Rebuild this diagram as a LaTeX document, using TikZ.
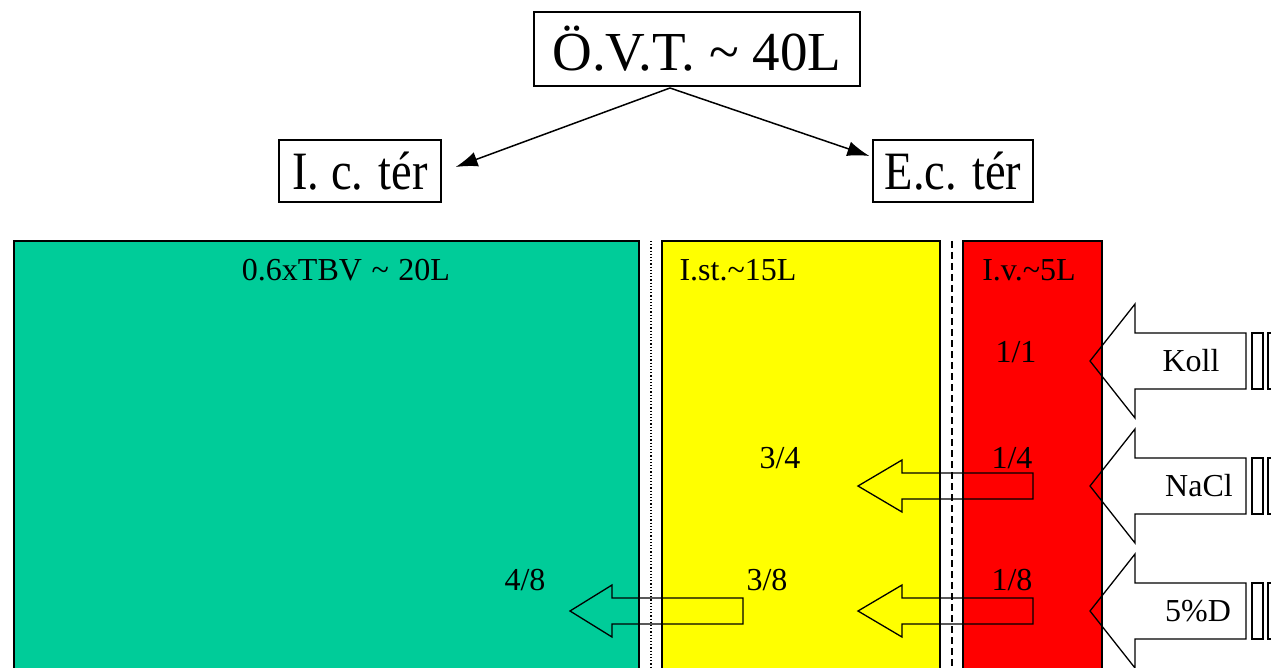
\documentclass[tikz,border=0pt]{standalone}
\usepackage{fontspec}
\setmainfont{Liberation Serif}
\usetikzlibrary{arrows.meta}
\definecolor{icgreen}{RGB}{0,204,153}
\definecolor{isyellow}{RGB}{255,255,0}
\definecolor{ivred}{RGB}{255,0,0}
\tikzset{
  topbox/.style={draw, line width=1.3pt, inner sep=0pt, fill=white},
  compart/.style={draw, line width=1.2pt},
  lbl/.style={font=\fontsize{32}{36}\selectfont, inner sep=0pt},
  blockarrow/.style={draw, line width=1.3pt, line join=miter},
  conn/.style={line width=1.5pt, -{Latex[length=22pt,width=15pt]}},
}
\begin{document}
\begin{tikzpicture}[x=1pt,y=-1pt]
\useasboundingbox (0,0) rectangle (1271,668);
\clip (0,0) rectangle (1271,668);
% top boxes
\node[topbox, minimum width=326pt, minimum height=74pt, font=\fontsize{55}{60}\selectfont] (ovt) at (697,49) {Ö.V.T.\ \char`~\ 40L};
\node[topbox, minimum width=162pt, minimum height=62pt] (ic) at (360,171) {\scalebox{0.86}[1]{\fontsize{54}{60}\selectfont I. c. tér}};
\node[topbox, minimum width=160pt, minimum height=62pt] (ec) at (953,171) {\scalebox{0.86}[1]{\fontsize{54}{60}\selectfont E.c. tér}};
\coordinate (split) at (670,88);
\draw[conn] (split) -- ([xshift=14pt,yshift=4pt]ic.east);
\draw[conn] (split) -- ([xshift=-3pt,yshift=15pt]ec.west);
% compartments
\draw[compart, fill=icgreen] (14,241) rectangle (639,680);
\draw[compart, fill=isyellow] (662,241) rectangle (940,680);
\draw[compart, fill=ivred] (963,241) rectangle (1102,680);
\draw[line width=1.2pt, dotted] (651,241) -- (651,680);
\draw[line width=1.2pt, dash pattern=on 7pt off 4pt] (952,241) -- (952,680);
% labels
\node[lbl] (tbv) at (346,270) {0.6xTBV\hspace{0.3em}\char`~\hspace{0.3em}20L};
\node[lbl] (ist) at (738,270) {I.st.\char`~15L};
\node[lbl] (iv) at (1029,270) {I.v.\char`~5L};
\node[lbl] (r11) at (1016,352) {1/1};
\node[lbl] (r14) at (1012,458) {1/4};
\node[lbl] (y34) at (780,458) {3/4};
\node[lbl] (r18) at (1012,580) {1/8};
\node[lbl] (y38) at (767,580) {3/8};
\node[lbl] (g48) at (525,580) {4/8};
% internal block arrows
\draw[blockarrow] (858,486) -- (902,460) -- (902,473) -- (1033,473) -- (1033,499) -- (902,499) -- (902,512) -- cycle;
\draw[blockarrow] (858,611) -- (902,585) -- (902,598) -- (1033,598) -- (1033,624) -- (902,624) -- (902,637) -- cycle;
\draw[blockarrow] (570,611) -- (612,585) -- (612,598) -- (743,598) -- (743,624) -- (612,624) -- (612,637) -- cycle;
% right infusion arrows
\foreach \cy/\txt/\tx in {361/Koll/1191, 486/NaCl/1199, 611/5\%D/1198}{
  \draw[blockarrow] (1090,\cy) -- (1135,\cy-57) -- (1135,\cy-28) -- (1246,\cy-28) -- (1246,\cy+28) -- (1135,\cy+28) -- (1135,\cy+57) -- cycle;
  \draw[line width=1.3pt] (1252,\cy-28) rectangle (1263,\cy+28);
  \draw[line width=1.3pt] (1268,\cy-28) rectangle (1280,\cy+28);
  \node[lbl] at (\tx,\cy) {\txt};
}
\end{tikzpicture}
\end{document}
